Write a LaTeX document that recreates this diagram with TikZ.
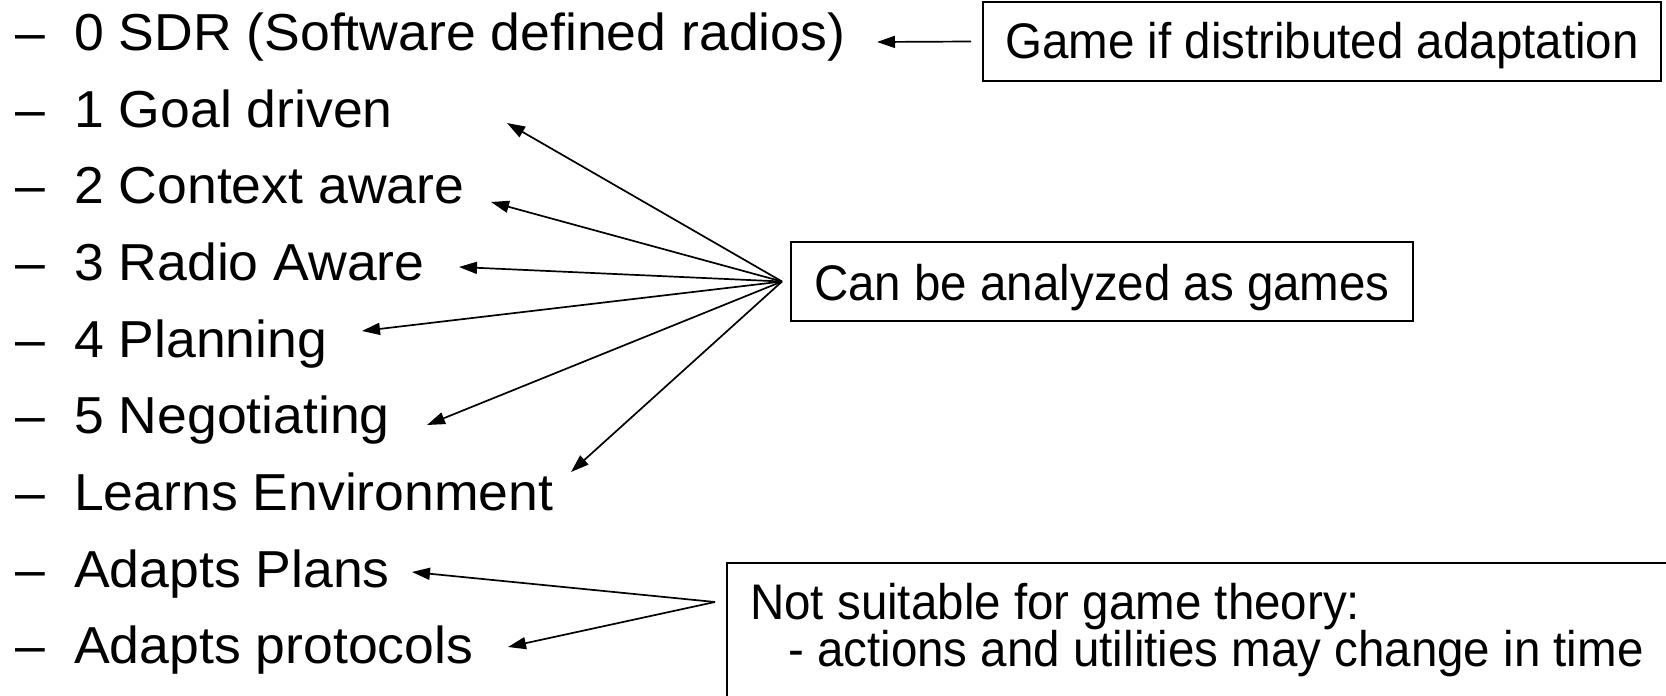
\documentclass[tikz,border=0pt]{standalone}
\usepackage{fontspec}
\setmainfont{Liberation Sans}
\newfontfamily\listfamily[FakeStretch=1.03]{Liberation Sans}
\newfontfamily\boxfamily[FakeStretch=0.95]{Liberation Sans}
\usetikzlibrary{arrows.meta,calc}

\tikzset{
  item/.style={anchor=base west, inner sep=0pt, font=\listfamily\fontsize{52}{60}\selectfont},
  boxtext/.style={anchor=base west, inner sep=0pt, font=\boxfamily\fontsize{50}{58}\selectfont},
  frame/.style={draw, line width=2pt, inner sep=0pt, font=\boxfamily\fontsize{50}{58}\selectfont},
  conn/.style={-{Triangle[length=18pt,width=12pt]}, line width=1.7pt},
}

\begin{document}
\begin{tikzpicture}[x=1pt,y=-1pt]
  \useasboundingbox (0,0) rectangle (1666,696);
  \fill[white] (0,0) rectangle (1666,696);
  \clip (0,0) rectangle (1666,696);

  % bullet list
  \foreach \n/\y/\t in {0/50/{0 SDR (Software defined radios)},
                        1/127/{1 Goal driven},
                        2/203/{2 Context aware},
                        3/280/{3 Radio Aware},
                        4/357/{4 Planning},
                        5/433/{5 Negotiating},
                        6/510/{Learns Environment},
                        7/587/{Adapts Plans},
                        8/663/{Adapts protocols}} {
    \node[item] (d\n) at (15,\y) {–};
    \node[item] (i\n) at (74,\y) {\t};
  }

  % remark boxes
  \node[frame, minimum width=678pt, text height=56pt, text depth=23pt]
    (b1) at (1322,41.5) {Game if distributed adaptation};
  \node[frame, minimum width=622pt, text height=58pt, text depth=21pt]
    (b2) at (1102,281.5) {Can be analyzed as games};
  \node[frame, anchor=north west, minimum width=1000pt, minimum height=200pt]
    (b3) at (726,562) {};
  \node[boxtext] (n1) at (750,619) {Not suitable for game theory:};
  \node[boxtext] (n2) at (788,666) {- actions and utilities may change in time};

  % connector origins just left of the boxes
  \coordinate (c1) at ($(b1.west)+(-11,0)$);
  \coordinate (c2) at ($(b2.west)+(-8,0)$);
  \coordinate (c3) at ($(b3.north west)+(-11,40)$);

  % arrow tips beside the list entries
  \coordinate (a0) at (877,42);
  \coordinate (a1) at (507,123);
  \coordinate (a2) at (491,202);
  \coordinate (a3) at (459,267);
  \coordinate (a4) at (362,331);
  \coordinate (a5) at (427,425);
  \coordinate (a6) at (571,472);
  \coordinate (a7) at (412,572);
  \coordinate (a8) at (508,647);

  \draw[conn] (c1) -- (a0);
  \foreach \k in {1,...,6} \draw[conn] (c2) -- (a\k);
  \draw[conn] (c3) -- (a7);
  \draw[conn] (c3) -- (a8);
\end{tikzpicture}
\end{document}
